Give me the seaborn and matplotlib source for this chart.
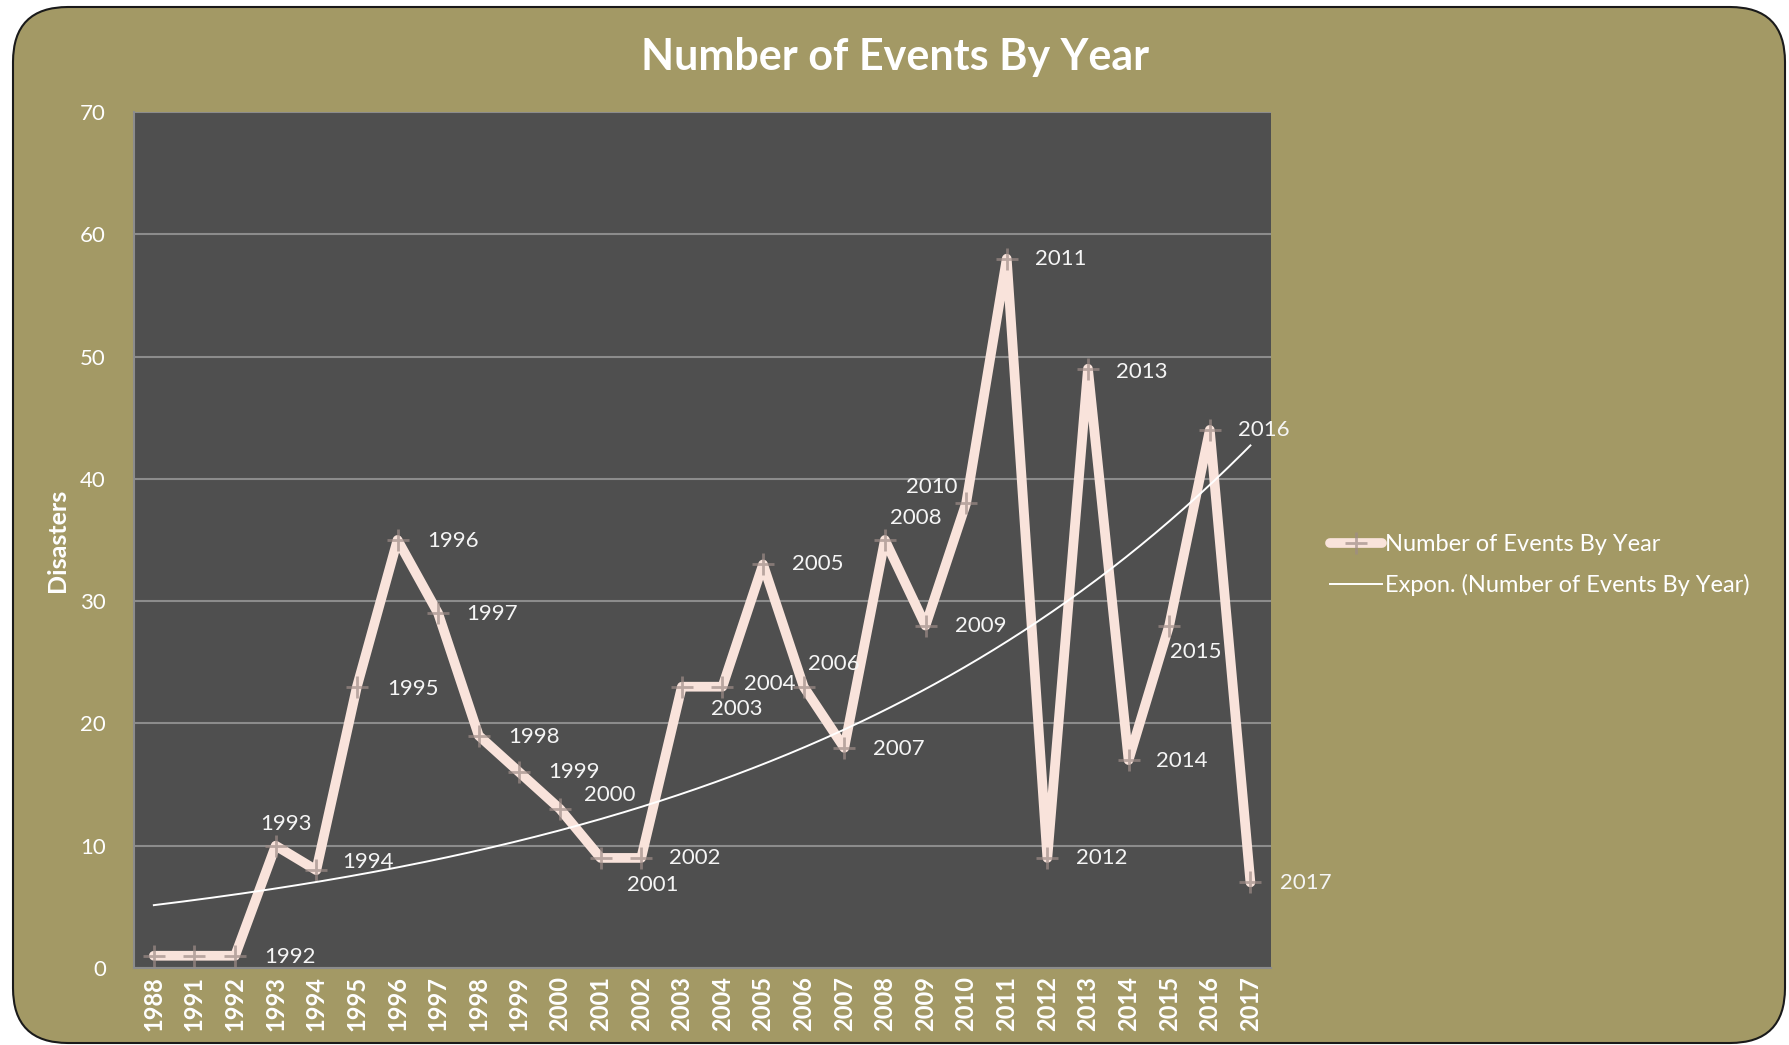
import numpy as np
import pandas as pd
import seaborn as sns
import matplotlib.pyplot as plt
from matplotlib.patches import FancyBboxPatch
from matplotlib.transforms import IdentityTransform

years = ['1988', '1991', '1992', '1993', '1994', '1995', '1996', '1997', '1998', '1999',
         '2000', '2001', '2002', '2003', '2004', '2005', '2006', '2007', '2008', '2009',
         '2010', '2011', '2012', '2013', '2014', '2015', '2016', '2017']
events = [1, 1, 1, 10, 8, 23, 35, 29, 19, 16, 13, 9, 9, 23, 23, 33, 23, 18, 35, 28,
          38, 58, 9, 49, 17, 28, 44, 7]
series_name = 'Number of Events By Year'
trend_name = 'Expon. (Number of Events By Year)'

# where each data label sits relative to its point, in pixels (None = no label)
label_offsets = [None, None, (55, -1), (10, 22), (52, 8), (56, -2), (55, -1), (54, -1),
                 (55, -1), (55, 0), (50, 14), (52, -27), (54, 0), (55, -22), (47, 3),
                 (55, 0), (30, 23), (55, -1), (31, 22), (55, 0), (-34, 16), (54, 0),
                 (54, 0), (54, -3), (53, -1), (27, -26), (54, 0), (55, -1)]

olive = '#A39965'
plot_bg = '#4F4F4F'
grid_c = '#8C8C8C'
pink = '#F9E3DB'

plt.rcParams['font.family'] = ['Lato', 'DejaVu Sans']

df = pd.DataFrame({'pos': np.arange(len(years)), 'year': years, 'events': events})

# Excel-style exponential trendline: ln(y) = ln(a) + b*x with x = 1..n
xe = df['pos'].values + 1
b, lna = np.polyfit(xe, np.log(df['events'].values), 1)
xs = np.linspace(0, len(years) - 1, 300)
trend = pd.DataFrame({'pos': xs, 'trend': np.exp(lna) * np.exp(b * (xs + 1))})

fig = plt.figure(figsize=(17.9, 10.45), dpi=100, facecolor='white')
bg = FancyBboxPatch((13, 2), 1772, 1036, boxstyle='round,pad=0,rounding_size=55',
                    transform=IdentityTransform(), facecolor=olive, edgecolor='#1a1a1a',
                    linewidth=1.5, zorder=-10)
fig.patches.append(bg)

ax = fig.add_axes([0.0746, 0.0737, 0.6353, 0.8192])
ax.set_facecolor(plot_bg)

sns.lineplot(data=df, x='pos', y='events', ax=ax, color=pink, linewidth=7,
             marker='+', markersize=16, markeredgewidth=2.0,
             markeredgecolor=(0.62, 0.55, 0.53, 0.7), label=series_name,
             solid_joinstyle='round', solid_capstyle='round', zorder=3)
sns.lineplot(data=trend, x='pos', y='trend', ax=ax, color='white', linewidth=1.4,
             label=trend_name, zorder=4)

for i, off in enumerate(label_offsets):
    if off is None:
        continue
    ax.annotate(years[i], (df['pos'][i], df['events'][i]), xytext=off,
                textcoords='offset pixels', ha='center', va='center',
                color='#F5F5F5', fontsize=16, annotation_clip=False, zorder=5)

ax.set_xlim(-0.5, len(years) - 0.5)
ax.set_ylim(0, 70)
ax.set_yticks(range(0, 71, 10))
ax.set_xticks(df['pos'])
ax.set_xticklabels(years, rotation=90, fontweight='bold')
ax.tick_params(axis='both', length=0, colors='white')
ax.tick_params(axis='y', pad=20, labelsize=16)
ax.tick_params(axis='x', pad=6, labelsize=17)
ax.yaxis.grid(True, color=grid_c, linewidth=1.5)
ax.xaxis.grid(False)
ax.set_axisbelow(True)
for side in ['top', 'right']:
    ax.spines[side].set_visible(False)
for side in ['left', 'bottom']:
    ax.spines[side].set_color(grid_c)
    ax.spines[side].set_linewidth(1.5)
ax.set_xlabel('')
ax.set_ylabel('Disasters', color='white', fontsize=18, fontweight='bold', labelpad=8)

handles, labels = ax.get_legend_handles_labels()
if ax.get_legend() is not None:
    ax.get_legend().remove()
fig.legend(handles, labels, loc='center left', bbox_to_anchor=(1309 / 1790, 1 - 565 / 1045),
           frameon=False, labelcolor='white', fontsize=17, handlelength=2.2,
           handletextpad=0.1, labelspacing=0.8)

fig.text(0.5, 1 - 57 / 1045, series_name, ha='center', va='center', color='white',
         fontsize=31, fontweight='bold')

fig.savefig('out.png', dpi=100, facecolor='white')
